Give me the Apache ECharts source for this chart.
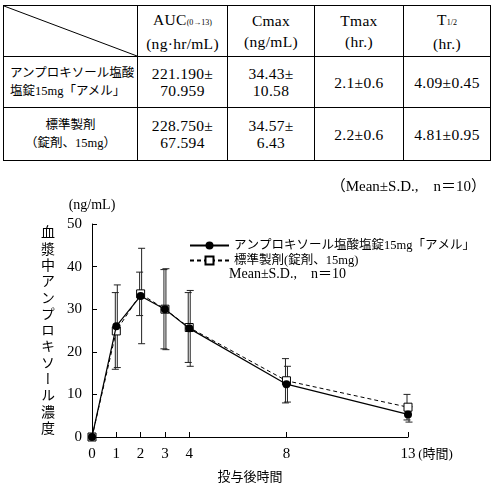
<!DOCTYPE html>
<html>
<head>
<meta charset="utf-8">
<script src="https://cdn.jsdelivr.net/npm/echarts@6.0.0/dist/echarts.min.js"></script>
<style>
  html, body { margin: 0; padding: 0; background: #fff; }
  body { width: 496px; height: 490px; position: relative; overflow: hidden;
         font-family: "Liberation Serif", "Noto Sans CJK JP", serif; color: #000; }
  #chart { position: absolute; left: 0; top: 0; width: 496px; height: 490px; }
  #tbl { position: absolute; left: 3px; top: 5px; border-collapse: collapse; table-layout: fixed;
         width: 487px; border: 1.5px solid #000; z-index: 2; background: #fff; }
  #tbl td { border: 1px solid #000; text-align: center; vertical-align: middle; padding: 0;
            font-size: 15.5px; line-height: 17px; letter-spacing: 0.3px; }
  #tbl tr.head td { line-height: 21px; }
  #tbl td.jp { font-size: 12.5px; line-height: 18px; letter-spacing: 0; }
  #tbl td.left { text-align: left; padding-left: 6px; }
  #tbl td.diag {
    background-image: url("data:image/svg+xml;utf8,<svg xmlns='http://www.w3.org/2000/svg' preserveAspectRatio='none' viewBox='0 0 100 100'><line x1='0' y1='0' x2='100' y2='100' stroke='black' stroke-width='1' vector-effect='non-scaling-stroke'/></svg>");
    background-size: 100% 100%; background-repeat: no-repeat; }
  .sub { font-size: 8px; letter-spacing: 0; }
  #note { position: absolute; right: 10px; top: 174px; font-size: 15px; z-index: 2; }
  #ylab { position: absolute; left: 40px; top: 225px; writing-mode: vertical-rl;
          font-family: "Noto Sans CJK JP", sans-serif; font-size: 14px; letter-spacing: 2.3px;
          line-height: 15px; z-index: 2; }
</style>
</head>
<body>
<div id="chart"></div>

<table id="tbl">
  <colgroup>
    <col style="width:134px"><col style="width:90px"><col style="width:87px"><col style="width:89px"><col style="width:87px">
  </colgroup>
  <tr class="head" style="height:51px">
    <td class="diag"></td>
    <td>AUC<span class="sub">(0→13)</span><br>(ng·hr/mL)</td>
    <td>Cmax<br>(ng/mL)</td>
    <td>Tmax<br>(hr.)</td>
    <td>T<span class="sub">1/2</span><br>(hr.)</td>
  </tr>
  <tr style="height:51px">
    <td class="jp left">アンプロキソール塩酸<br>塩錠15mg「アメル」</td>
    <td>221.190±<br>70.959</td>
    <td>34.43±<br>10.58</td>
    <td>2.1±0.6</td>
    <td>4.09±0.45</td>
  </tr>
  <tr style="height:53px">
    <td class="jp">標準製剤<br>（錠剤、15mg）</td>
    <td>228.750±<br>67.594</td>
    <td>34.57±<br>6.43</td>
    <td>2.2±0.6</td>
    <td>4.81±0.95</td>
  </tr>
</table>
<div id="note">（Mean±S.D.,　n＝10）</div>
<div id="ylab">血漿中アンプロキソール濃度</div>

<script>
// 投与後時間 (hr)
var timeH = [0, 1, 2, 3, 4, 8, 13];
var xTicks = [0, 1, 2, 3, 4, 8, 13];

// アンプロキソール塩酸塩錠15mg「アメル」
var testMean = [0, 26.0, 33.1, 30.0, 25.5, 12.4, 5.3];
var testSD   = [0, 9.7, 11.2, 9.5, 8.9, 4.2, 1.8];

// 標準製剤(錠剤、15mg)
var refMean = [0, 24.9, 33.6, 30.0, 25.7, 13.2, 7.0];
var refSD   = [0, 9.0, 5.1, 9.3, 8.2, 5.2, 3.0];

var nameTest = 'アンプロキソール塩酸塩錠15mg「アメル」';
var nameRef = '標準製剤(錠剤、15mg)';

var serif = '"Liberation Serif", "Noto Sans CJK JP", serif';

function pairs(m) {
    return timeH.map(function (t, i) { return [t, m[i]]; });
}
function bars(m, sd) {
    return timeH.map(function (t, i) { return [t, m[i] - sd[i], m[i] + sd[i]]; });
}

// error bar with caps, shifted a little so the two groups don't sit on top of each other
function errRender(shift) {
    return function (params, api) {
        var x = api.value(0), lo = api.value(1), hi = api.value(2);
        if (hi - lo <= 0) return;
        var top = api.coord([x, hi]);
        var bot = api.coord([x, lo]);
        var cx = top[0] + shift;
        var w = 3.5;
        var st = { stroke: '#222', lineWidth: 1 };
        return {
            type: 'group',
            children: [
                { type: 'line', shape: { x1: cx, y1: top[1], x2: cx, y2: bot[1] }, style: st },
                { type: 'line', shape: { x1: cx - w, y1: top[1], x2: cx + w, y2: top[1] }, style: st },
                { type: 'line', shape: { x1: cx - w, y1: bot[1], x2: cx + w, y2: bot[1] }, style: st }
            ]
        };
    };
}

var chart = echarts.init(document.getElementById('chart'));

var option = {
    animation: false,
    grid: { left: 92, right: 88, top: 224, bottom: 53 },
    legend: {
        orient: 'vertical',
        left: 184,
        top: 234,
        itemWidth: 39,
        itemHeight: 10,
        itemGap: 2,
        textStyle: { fontFamily: serif, fontSize: 12.5, color: '#000', lineHeight: 13 },
        data: [nameTest, nameRef]
    },
    graphic: [{
        type: 'text',
        left: 229,
        top: 267,
        style: { text: 'Mean±S.D.,　n＝10', fontFamily: serif, fontSize: 14, fill: '#000' }
    }],
    xAxis: {
        type: 'value',
        min: 0,
        max: 13,
        name: '投与後時間',
        nameLocation: 'middle',
        nameGap: 33,
        nameTextStyle: { fontFamily: '"Noto Sans CJK JP", sans-serif', fontSize: 13, color: '#000' },
        axisLine: { lineStyle: { color: '#000', width: 1 } },
        axisTick: { inside: true, length: 5, customValues: xTicks, lineStyle: { color: '#000' } },
        axisLabel: {
            customValues: xTicks,
            margin: 10,
            color: '#000',
            fontFamily: serif,
            fontSize: 15,
            formatter: function (v) {
                return v === 13 ? '{p|}{n|13}{u|(時間)}' : '{n|' + v + '}';
            },
            rich: {
                p: { width: 40 },
                n: { fontFamily: serif, fontSize: 15, color: '#000' },
                u: { width: 40, align: 'left', fontFamily: serif, fontSize: 13, color: '#000' }
            }
        },
        splitLine: { show: false }
    },
    yAxis: {
        type: 'value',
        min: 0,
        max: 50,
        interval: 10,
        name: '(ng/mL)',
        nameLocation: 'end',
        nameGap: 12,
        nameTextStyle: { fontFamily: serif, fontSize: 14, color: '#000' },
        axisLine: { show: true, lineStyle: { color: '#000', width: 1 } },
        axisTick: { show: true, inside: true, length: 5, lineStyle: { color: '#000' } },
        axisLabel: { margin: 10, color: '#000', fontFamily: serif, fontSize: 15 },
        splitLine: { show: false }
    },
    series: [
        {
            type: 'custom',
            name: 'testSD',
            renderItem: errRender(1),
            encode: { x: 0, y: [1, 2] },
            data: bars(testMean, testSD),
            z: 1,
            silent: true
        },
        {
            type: 'custom',
            name: 'refSD',
            renderItem: errRender(-1),
            encode: { x: 0, y: [1, 2] },
            data: bars(refMean, refSD),
            z: 1,
            silent: true
        },
        {
            type: 'line',
            name: nameRef,
            data: pairs(refMean),
            symbol: 'rect',
            symbolSize: 8,
            clip: false,
            lineStyle: { color: '#000', width: 1, type: [4, 3] },
            itemStyle: { color: '#fff', borderColor: '#000', borderWidth: 1 },
            z: 3
        },
        {
            type: 'line',
            name: nameTest,
            data: pairs(testMean),
            symbol: 'circle',
            symbolSize: 8,
            clip: false,
            lineStyle: { color: '#000', width: 1.2 },
            itemStyle: { color: '#000', borderColor: '#000', borderWidth: 0 },
            z: 4
        }
    ]
};

chart.setOption(option);
</script>
</body>
</html>
